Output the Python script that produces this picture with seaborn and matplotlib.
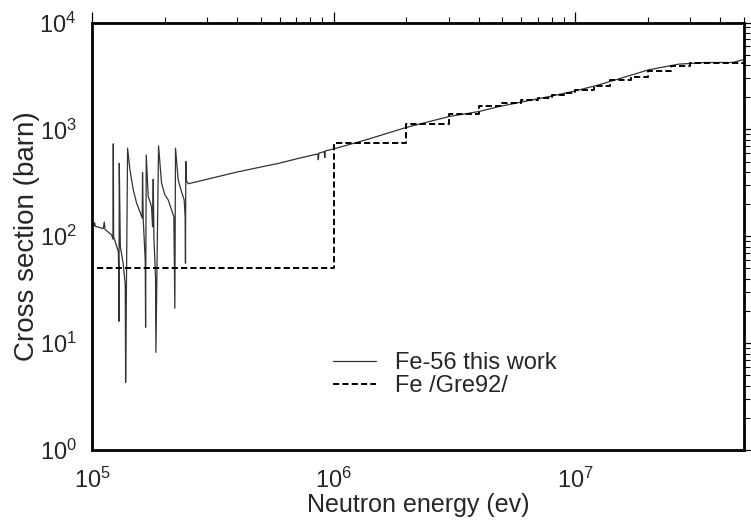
import matplotlib
matplotlib.use("Agg")
import matplotlib.pyplot as plt
import seaborn as sns
import numpy as np
import pandas as pd

# ---- data: Fe-56 evaluated total cross section (energy in keV, barn)
fe56_energy_kev = [
    100.0, 101.9, 102.6, 103.2, 111.4, 112.4, 113.2, 120.6, 122.1, 122.5,
    122.9, 125.6, 128.5, 128.9, 129.3, 129.7, 131.0, 134.7, 137.3, 137.8,
    140.4, 143.6, 148.2, 153.0, 157.9, 161.4, 161.9, 163.0, 166.1, 166.7,
    167.7, 170.9, 173.7, 176.4, 178.1, 179.3, 180.4, 183.3, 183.9, 188.6,
    194.1, 200.3, 206.8, 213.4, 218.2, 220.3, 221.7, 227.4, 234.7, 240.8,
    243.1, 243.8, 244.6, 246.2, 250.1,
    400.0, 598.0, 723.0, 860.0, 865.0, 870.0, 915.0, 920.0, 925.0, 993.0,
    1365.0, 1995.0, 3013.0, 4010.0, 4850.0, 7820.0, 10000.0, 12570.0,
    20200.0, 26900.0, 34700.0, 44700.0, 50000.0,
]
fe56_sigma_barn = [
    123, 125, 134, 124, 118, 136, 116, 103, 94, 733,
    99, 85, 72, 52, 16, 483, 80, 55, 35, 4.3,
    668, 418, 272, 204, 170, 148, 395, 142, 60, 14.1,
    578, 236, 212, 190, 123, 342, 100, 40, 8.2, 702,
    314, 244, 219, 177, 153, 21.2, 668, 338, 262, 219,
    150, 56, 501, 330, 310,
    400, 484, 539, 590, 520, 600, 620, 545, 630, 654,
    800, 1042, 1321, 1473, 1638, 2033, 2290, 2617,
    3614, 4084, 4230, 4230, 4500,
]

# ---- data: Fe /Gre92/ group cross section (group lower edges in eV, barn)
gre92_edges_ev = [1.05e5, 1e6, 2e6, 3e6, 4e6, 5e6, 6e6, 7e6, 8e6, 9e6,
                  1e7, 1.2e7, 1.4e7, 1.7e7, 2e7, 2.5e7, 3e7, 4e7, 5e7]
gre92_sigma_barn = [50, 745, 1128, 1400, 1640, 1780, 1880, 1980, 2080, 2180,
                    2330, 2550, 2900, 3090, 3550, 3950, 4150, 4200, 4200]

series_labels = ["Fe-56 this work", "Fe /Gre92/"]
x_label = "Neutron energy (ev)"
y_label = "Cross section (barn)"

sns.set_style("white")
plt.rcParams["font.family"] = ["Liberation Sans", "DejaVu Sans"]
plt.rcParams["mathtext.fontset"] = "custom"
plt.rcParams["mathtext.rm"] = "Liberation Sans"
plt.rcParams["mathtext.it"] = "Liberation Sans:italic"

df_this = pd.DataFrame({"E": np.array(fe56_energy_kev) * 1e3, "sigma": fe56_sigma_barn})
df_gre = pd.DataFrame({"E": gre92_edges_ev, "sigma": gre92_sigma_barn})

fig = plt.figure(figsize=(7.51, 5.31), dpi=100)
ax = fig.add_axes([0.1225, 0.1525, 0.868, 0.805])

sns.lineplot(data=df_this, x="E", y="sigma", ax=ax, estimator=None, sort=False,
             color="#333333", lw=0.9, label=series_labels[0])
sns.lineplot(data=df_gre, x="E", y="sigma", ax=ax, estimator=None, sort=False,
             color="black", lw=1.4, linestyle=(0, (3.2, 1.6)),
             drawstyle="steps-post", label=series_labels[1])

ax.set_xscale("log")
ax.set_yscale("log")
ax.set_xlim(1e5, 5e7)
ax.set_ylim(1, 1e4)

for s in ax.spines.values():
    s.set_linewidth(2.0)
    s.set_color("black")

ax.tick_params(which="both", direction="out", top=True, right=True,
               labeltop=False, labelright=False, color="black")
ax.tick_params(which="major", length=8, width=0.9, labelsize=17)
ax.tick_params(axis="x", which="major", pad=5)
ax.tick_params(axis="y", which="major", pad=3)
ax.tick_params(which="minor", length=4.5, width=0.8)

ax.set_xlabel(x_label, fontsize=18)
ax.set_ylabel(y_label, fontsize=20)
ax.xaxis.set_label_coords(0.5, -0.100)
ax.yaxis.set_label_coords(-0.080, 0.5)

leg = ax.legend(loc="center left", bbox_to_anchor=(0.37, 0.176), frameon=False,
                fontsize=17, handlelength=1.8, handletextpad=0.8,
                labelspacing=0.05, borderpad=0, borderaxespad=0)
ax.grid(False)

fig.savefig("out.png", dpi=100)
